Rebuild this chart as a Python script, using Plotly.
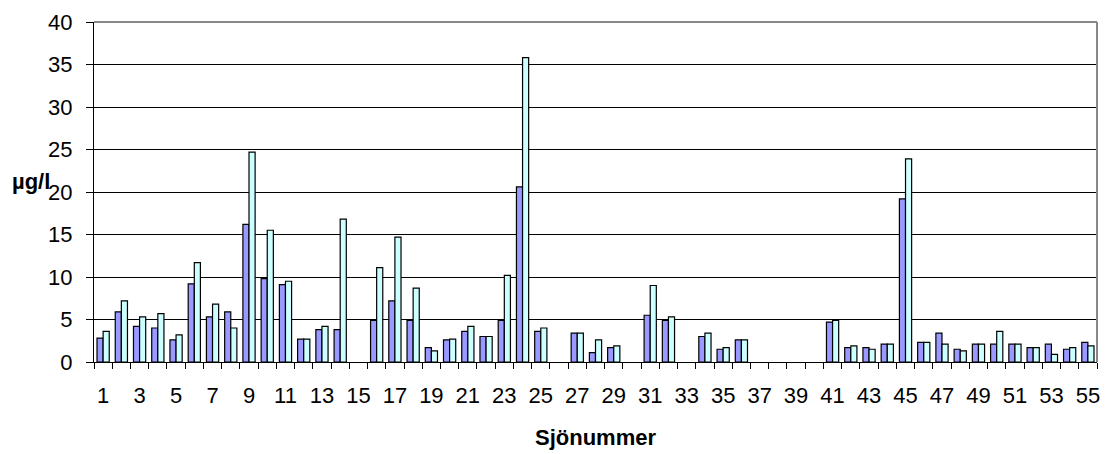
import plotly.graph_objects as go

# Lake numbers 1..55 and two measurement series (µg/l); None = no sample
lakes = list(range(1, 56))
series_a = [2.8, 5.9, 4.2, 4.0, 2.6, 9.2, 5.3, 5.9, 16.2, 9.8,
            9.1, 2.7, 3.8, 3.8, None, 4.9, 7.2, 4.9, 1.7, 2.6,
            3.6, 3.0, 4.9, 20.6, 3.6, None, 3.4, 1.1, 1.7, None,
            5.5, 4.9, None, 3.0, 1.5, 2.6, None, None, None, None,
            4.7, 1.7, 1.7, 2.1, 19.2, 2.3, 3.4, 1.5, 2.1, 2.1,
            2.1, 1.7, 2.1, 1.5, 2.3]
series_b = [3.6, 7.2, 5.3, 5.7, 3.2, 11.7, 6.8, 4.0, 24.7, 15.5,
            9.5, 2.7, 4.2, 16.8, None, 11.1, 14.7, 8.7, 1.3, 2.7,
            4.2, 3.0, 10.2, 35.8, 4.0, None, 3.4, 2.6, 1.9, None,
            9.0, 5.3, None, 3.4, 1.7, 2.6, None, None, None, None,
            4.9, 1.9, 1.5, 2.1, 23.9, 2.3, 2.1, 1.3, 2.1, 3.6,
            2.1, 1.7, 0.9, 1.7, 1.9]
label_lakes = list(range(1, 56, 2))
y_ticks = list(range(0, 45, 5))

font_family = "Liberation Sans, Arial, sans-serif"
W, H = 1110, 454
M_L, M_R, M_T, M_B = 94, 10, 20, 92
plot_w = W - M_L - M_R
plot_h = H - M_T - M_B

fig = go.Figure()
fig.add_trace(go.Bar(x=lakes, y=series_a, marker=dict(color="#9999FF", line=dict(color="black", width=1.2))))
fig.add_trace(go.Bar(x=lakes, y=series_b, marker=dict(color="#CCFFFF", line=dict(color="black", width=1.2))))

fig.update_layout(
    width=W, height=H,
    margin=dict(l=M_L, r=M_R, t=M_T, b=M_B),
    paper_bgcolor="white", plot_bgcolor="white",
    barmode="group", bargap=0.33, bargroupgap=0,
    showlegend=False,
    font=dict(family=font_family, size=22, color="black"),
)
fig.update_xaxes(
    range=[0.5, 55.5], tickmode="array", tickvals=label_lakes,
    ticktext=[str(v) for v in label_lakes], ticks="", ticklen=0,
    ticklabelstandoff=14,
    showline=True, linecolor="black", linewidth=1, showgrid=False, zeroline=False,
    minor=dict(tick0=0.5, dtick=1, ticks="outside", ticklen=6, tickcolor="black", tickwidth=1, showgrid=False),
    tickfont=dict(size=22),
)
fig.update_yaxes(
    range=[0, 40], tickmode="array", tickvals=y_ticks,
    ticks="outside", ticklen=7, tickcolor="black", ticklabelstandoff=9,
    showline=True, linecolor="black", linewidth=1,
    showgrid=True, gridcolor="black", gridwidth=1, zeroline=False,
    tickfont=dict(size=22),
)

# grey frame along the top and right side of the plot area
fig.add_shape(type="line", xref="paper", yref="paper", x0=0, x1=1, y0=1, y1=1,
              line=dict(color="#888888", width=2))
fig.add_shape(type="line", xref="paper", yref="paper", x0=1, x1=1, y0=0, y1=1,
              line=dict(color="#888888", width=2))

# axis titles placed by pixel position
fig.add_annotation(text="<b>µg/l</b>", xref="paper", yref="paper",
                   x=(31 - M_L) / plot_w, y=(H - M_B - 180) / plot_h,
                   xanchor="center", yanchor="middle", showarrow=False, font=dict(size=22))
fig.add_annotation(text="<b>Sjönummer</b>", xref="paper", yref="paper",
                   x=0.5, y=(H - M_B - 438) / plot_h,
                   xanchor="center", yanchor="middle", showarrow=False, font=dict(size=22))

fig.write_html("out.html")
